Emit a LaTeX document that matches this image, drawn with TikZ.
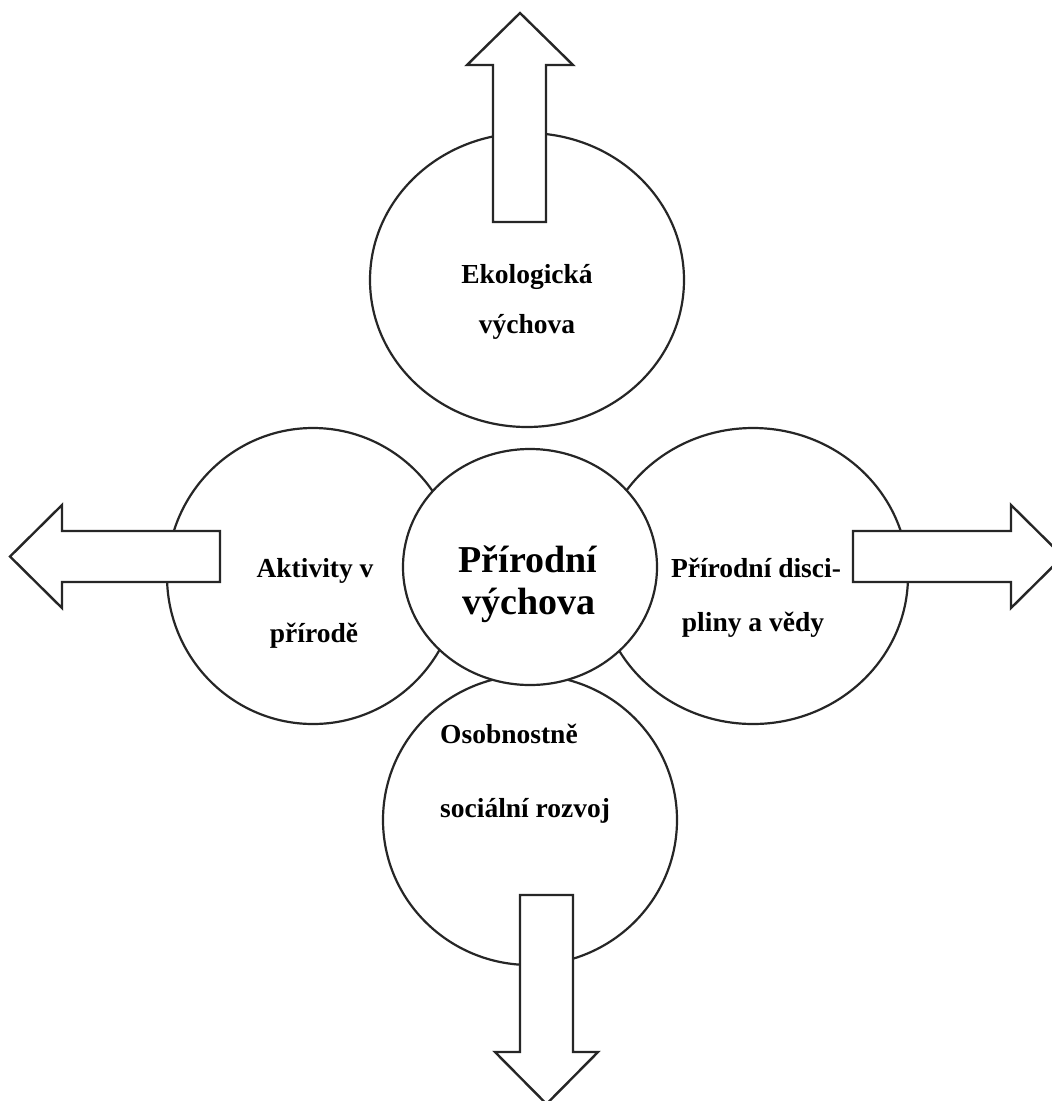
\documentclass[tikz,border=0pt]{standalone}
\usepackage{fontspec}
\setmainfont{Liberation Serif}
\usetikzlibrary{shapes.geometric}
\definecolor{ink}{HTML}{262626}
\begin{document}
\begin{tikzpicture}[x=1pt,y=-1pt,
  disc/.style={ellipse, draw=ink, line width=2.2pt, fill=white, inner sep=0pt},
  blockarrow/.style={draw=ink, line width=2.4pt, fill=white, line join=miter},
  lbl/.style={font=\fontsize{27.5}{30}\selectfont\bfseries, inner sep=0pt, anchor=base},
  biglbl/.style={font=\fontsize{38}{40}\selectfont\bfseries, inner sep=0pt, anchor=base}]
\clip (0,0) rectangle (1052,1101);
\fill[white] (0,0) rectangle (1052,1101);

% outer circles
\node[disc, minimum width=292pt, minimum height=296pt] (act) at (313,576) {};
\node[disc, minimum width=310pt, minimum height=296pt] (sci) at (753,576) {};
\node[disc, minimum width=294pt, minimum height=290pt] (soc) at (530,820) {};
\node[disc, minimum width=314pt, minimum height=294pt] (eco) at (527,280) {};
% central circle on top
\node[disc, minimum width=254pt, minimum height=236pt] (core) at (530,567) {};

% block arrows pointing outwards
\draw[blockarrow] (493,222) -- (493,65) -- (467,65) -- (520,13) -- (573,65)
  -- (546,65) -- (546,222) -- cycle;
\draw[blockarrow] (220,531) -- (62,531) -- (62,505) -- (10,556.5) -- (62,608)
  -- (62,582) -- (220,582) -- cycle;
\draw[blockarrow] (853,531) -- (1011,531) -- (1011,505) -- (1063,556.5) -- (1011,608)
  -- (1011,582) -- (853,582) -- cycle;
\draw[blockarrow] (520,895) -- (520,1052) -- (495,1052) -- (546.5,1104) -- (598,1052)
  -- (573,1052) -- (573,895) -- cycle;

% labels
\node[lbl] (eco1) at (527,283) {Ekologická};
\node[lbl] (eco2) at (527,333) {výchova};
\node[lbl] (act1) at (315,577) {Aktivity v};
\node[lbl] (act2) at (314,642) {přírodě};
\node[lbl] (sci1) at (756,577) {Přírodní disci-};
\node[lbl] (sci2) at (753,631) {pliny a vědy};
\node[lbl, anchor=base west] (soc1) at (440,743) {Osobnostně};
\node[lbl, anchor=base west] (soc2) at (440,817) {sociální rozvoj};
\node[biglbl] (core1) at (528,572) {Přírodní};
\node[biglbl] (core2) at (529,614) {výchova};
\end{tikzpicture}
\end{document}
